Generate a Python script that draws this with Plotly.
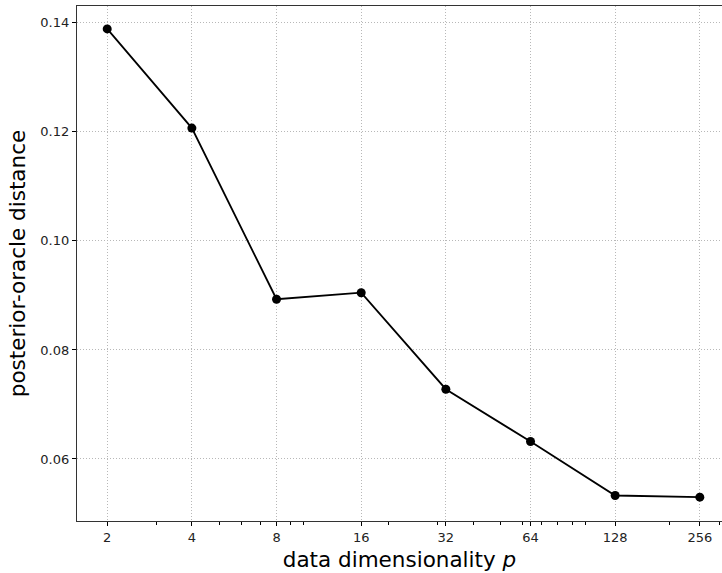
import plotly.graph_objects as go
import math

dims = [2, 4, 8, 16, 32, 64, 128, 256]
distance = [0.1389, 0.1207, 0.0893, 0.0905, 0.0728, 0.0632, 0.0533, 0.0530]
x_tick_vals = [2, 4, 8, 16, 32, 64, 128, 256]
x_tick_text = ["2", "4", "8", "16", "32", "64", "128", "256"]
x_minor_vals = [3, 5, 6, 7, 9, 10, 20, 30, 40, 50, 60, 70, 80, 90, 100, 200, 300]
y_tick_vals = [0.06, 0.08, 0.10, 0.12, 0.14]
y_tick_text = ["0.06", "0.08", "0.10", "0.12", "0.14"]

fig = go.Figure()
fig.add_trace(go.Scatter(
    x=dims, y=distance, mode="lines+markers",
    line=dict(color="black", width=1.8),
    marker=dict(color="black", size=9),
    showlegend=False,
))

L2 = math.log10(2)
grid_dash = "1px,2px"
fig.update_layout(
    width=722, height=573,
    margin=dict(l=77, r=0, t=6, b=52),
    paper_bgcolor="white", plot_bgcolor="white",
    font=dict(family="DejaVu Sans", color="black"),
    xaxis=dict(
        type="log", automargin=False,
        range=[0.643 * L2, 8.262 * L2],
        tickmode="array", tickvals=x_tick_vals, ticktext=x_tick_text,
        ticks="outside", ticklen=4, tickwidth=1, tickcolor="black",
        tickfont=dict(size=13, family="DejaVu Sans", color="#222"),
        showline=True, linecolor="#333", linewidth=1.2, mirror=True,
        showgrid=True, gridcolor="#b8b8b8", griddash=grid_dash, gridwidth=1,
        zeroline=False,
        minor=dict(tickmode="array", tickvals=x_minor_vals, ticks="outside",
                   ticklen=2.5, tickwidth=0.8, tickcolor="black", showgrid=False),
        title=dict(text="data dimensionality <i>p</i>", font=dict(size=21.5, family="DejaVu Sans"), standoff=8),
    ),
    yaxis=dict(
        automargin=False,
        range=[0.04862, 0.1431],
        tickmode="array", tickvals=y_tick_vals, ticktext=y_tick_text,
        ticks="outside", ticklen=4, tickwidth=1, tickcolor="black",
        tickfont=dict(size=13, family="DejaVu Sans", color="#222"),
        showline=True, linecolor="#333", linewidth=1.2,
        showgrid=True, gridcolor="#b8b8b8", griddash=grid_dash, gridwidth=1,
        zeroline=False,
        title=dict(text="posterior-oracle distance", font=dict(size=21.5, family="DejaVu Sans"), standoff=8),
    ),
)

fig.write_html(
    "out.html",
    config={"displayModeBar": False},
    post_script="document.body.style.margin='0';document.body.style.overflow='hidden';",
)
